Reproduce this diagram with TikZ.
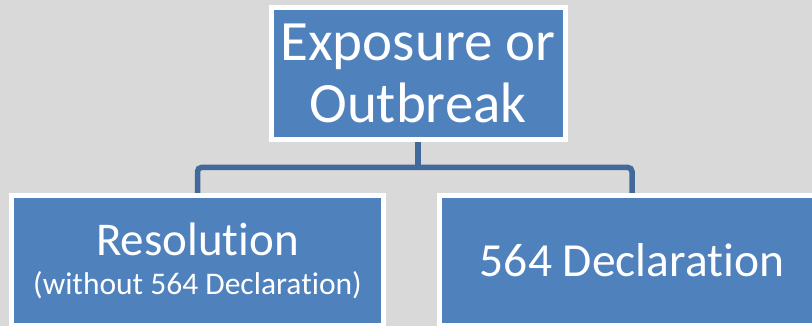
\documentclass[tikz,border=0pt]{standalone}
\usepackage{fontspec}
\setmainfont{Carlito}[Ligatures=NoCommon]
\usetikzlibrary{calc}
\definecolor{boxblue}{HTML}{4F81BD}
\definecolor{linkblue}{HTML}{41699C}
\definecolor{backgray}{HTML}{D9D9D9}

\begin{document}
\begin{tikzpicture}[x=1pt,y=-1pt,
  main node/.style={rectangle,fill=boxblue,draw=white,line width=5pt,text=white,align=center,inner sep=0pt},
  link/.style={draw=linkblue,line width=5.5pt,rounded corners=4pt}]

\clip (0,0) rectangle (812,326);
\fill[backgray] (0,0) rectangle (812,326);

\node[main node,minimum width=294pt,minimum height=132pt,font=\fontsize{57}{62}\selectfont](top) at (418,73.5) {Exposure or\\Outbreak};
\node[main node,minimum width=372pt,minimum height=130pt,font=\fontsize{47}{39}\selectfont](res) at (197.5,260.5) {Resolution\\{\fontsize{31.5}{39}\selectfont (without 564 Declaration)}};
\node[main node,minimum width=385pt,minimum height=130pt,font=\fontsize{47.5}{50}\selectfont](decl) at (632,260.5) {564 Declaration};

\coordinate (split) at (418,167.5);
\path[link] (top.south) -- (split);
\path[link] (res.north) |- (split) -| (decl.north);
\end{tikzpicture}
\end{document}
